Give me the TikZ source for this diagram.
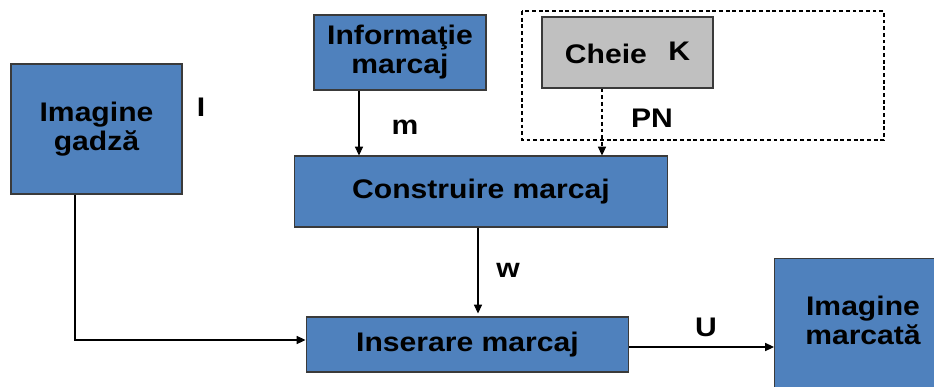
\documentclass[tikz,border=0pt]{standalone}
\usepackage{fontspec}
\setmainfont{Liberation Sans}[FakeStretch=1.12]
\usepackage{tikz}
\usetikzlibrary{calc}
\usetikzlibrary{arrows.meta}
\usetikzlibrary{positioning}
\definecolor{blokblue}{HTML}{4F81BD}
\definecolor{blokgray}{HTML}{C0C0C0}
\definecolor{blokline}{HTML}{3A3A3A}
\tikzset{
	blok/.style={draw=blokline, line width=0.6pt, fill=blokblue, align=center, inner sep=0pt,
		font=\fontsize{15.3}{16.5}\selectfont\bfseries},
	cheiebox/.style={blok, fill=blokgray},
	lbl/.style={font=\fontsize{15.3}{16.5}\selectfont\bfseries, inner sep=0pt},
	flux/.style={draw=black, line width=0.6pt, -{Triangle[length=5pt,width=4.6pt]}}
}

\begin{document}
\begin{tikzpicture}[x=0.02cm, y=-0.02cm]
\useasboundingbox (0,0) rectangle (934,386);
\clip (0,0) rectangle (934,386);

       \node[blok, minimum width=3.42cm, minimum height=2.6cm] (gadza) at (96.5,129) {Imagine\\gadză};
       
       \node[blok, minimum width=3.44cm, minimum height=1.5cm] (info) at (400,52.5) {Informaţie\\marcaj};
       
       \node[cheiebox, minimum width=3.42cm, minimum height=1.42cm] (cheie) at (627.5,52.5) {Cheie\hspace{0.8em}\raisebox{1.8pt}{K}};
       
       \draw[line width=0.6pt, dash pattern=on 2.2pt off 1.6pt] (522,11) rectangle (884,140);
       
       \node[blok, minimum width=7.48cm, minimum height=1.42cm] (constr) at (481,191.5) {Construire marcaj};
       
       \node[blok, minimum width=6.46cm, minimum height=1.1cm] (inser) at (467.5,344.5) {Inserare marcaj};
       
       \node[blok, minimum width=3.5cm, minimum height=2.8cm, anchor=north west] (marcata) at (774,258) {};
       \node[lbl, align=center] (marcatatext) at (863,320) {Imagine\\marcată};
       
       % etichete
       \node[lbl] (lI) at (201,107) {I};
       \node[lbl] (lm) at (405,127) {m};
       \node[lbl] (lPN) at (652,118) {PN};
       \node[lbl] (lw) at (508,270) {w};
       \node[lbl] (lU) at (706,327) {U};
       
       \coordinate (mx) at ($(info.south)+(-41,0)$);
       \draw[flux] (mx) -- (mx |- constr.north);
       
       \coordinate (pnx) at ($(cheie.south)+(-25.5,0)$);
       \draw[flux, dash pattern=on 2.2pt off 1.6pt] (pnx) -- (pnx |- constr.north);
       
       \coordinate (wx) at ($(constr.south)+(-3,0)$);
       \draw[flux] (wx) -- ($(wx |- inser.north)+(0,-3)$);
       
       \coordinate (colt) at (75,340);
       \draw[flux] (gadza.south -| colt) -- (colt) -- (colt -| inser.west);
       
       \coordinate (ux) at ($(inser.east)+(0,2.5)$);
       \draw[flux] (ux) -- (ux -| marcata.west);
\end{tikzpicture}
\end{document}
